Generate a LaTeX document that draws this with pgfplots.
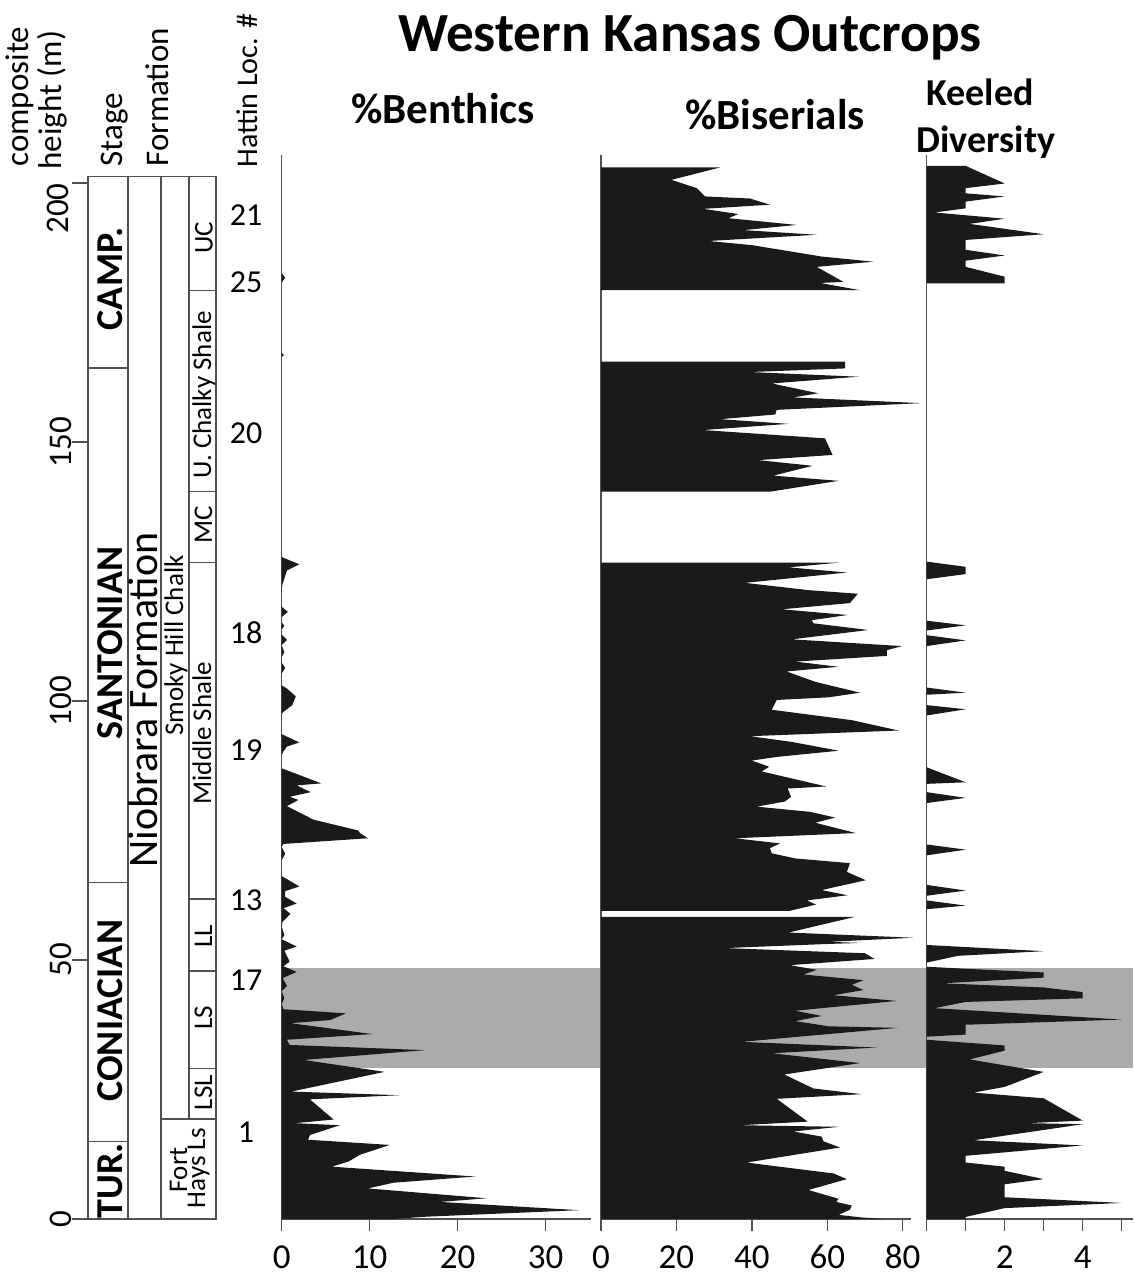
\documentclass[border=0pt]{standalone}
\usepackage{pgfplots}
\pgfplotsset{compat=1.18}
\usepackage{fontspec}
\setmainfont{Carlito}
\definecolor{ink}{HTML}{1A1A1A}
\definecolor{band}{HTML}{ABABAB}
\definecolor{rule}{HTML}{505050}

\pgfplotsset{
  panel/.style={
    scale only axis, height=532pt, ymin=0, ymax=205.4,
    anchor=south west, clip=false,
    axis x line*=bottom, axis y line*=left,
    axis line style={-, line width=0.65pt, draw=rule},
    ytick=\empty, tick align=outside, major tick length=6pt,
    every tick/.style={line width=0.65pt, draw=rule},
    /pgf/number format/assume math mode=true,
    xticklabel style={anchor=base, inner sep=0pt, yshift=-18.5pt, font=\fontsize{17.5}{19}\selectfont},
  },
  record/.style={fill=ink, draw=none},
}

\begin{document}
\begin{tikzpicture}
\useasboundingbox (0,0) rectangle (567.5pt,637.5pt);

% shaded interval behind the three records
\begin{axis}[scale only axis, hide axis, width=425.65pt, height=532pt,
  at={(140.85pt,28pt)}, anchor=south west,
  xmin=0, xmax=851.3, ymin=0, ymax=205.4]
\addplot[fill=band, draw=none] coordinates {(0,29.15) (851.3,29.15) (851.3,48.46) (0,48.46)};
\end{axis}

% stratigraphic column with composite height axis
\begin{axis}[scale only axis, width=64pt, height=521.1pt,
  at={(44pt,28pt)}, anchor=south west,
  xmin=0, xmax=128, ymin=0, ymax=201.2, clip=false,
  axis x line=none, axis y line*=left,
  axis line style={-, line width=0.65pt, draw=rule},
  ytick={0,50,100,150,200}, yticklabels={0,50,100,150,},
  tick align=outside, major tick length=8pt,
  every tick/.style={line width=0.65pt, draw=rule},
  /pgf/number format/assume math mode=true,
  yticklabel style={rotate=90, anchor=south, inner sep=0pt, font=\fontsize{16.5}{18}\selectfont}]
\draw[rule, line width=0.65pt] (0,0) rectangle (128,201.2);
\draw[rule, line width=0.65pt] (40,0) -- (40,201.2) (73,0) -- (73,201.2) (101,19.3) -- (101,201.2);
\draw[rule, line width=0.65pt] (0,164.3) -- (40,164.3) (0,64.9) -- (40,64.9) (0,14.9) -- (40,14.9);
\draw[rule, line width=0.65pt] (101,179.2) -- (128,179.2) (101,140.5) -- (128,140.5)
  (101,126.8) -- (128,126.8) (101,61.8) -- (128,61.8) (101,47.9) -- (128,47.9)
  (101,29.0) -- (128,29.0) (73,19.3) -- (128,19.3);
% top height label sits below its tick, clear of the axis title
\node[rotate=90, anchor=base east, inner sep=0pt, font=\fontsize{16.5}{18}\selectfont] at (-20,200) {200};
\begin{scope}[every node/.style={rotate=90, inner sep=0pt}]
\node[font=\bfseries\fontsize{19}{20}\selectfont] at (22,181.5) {CAMP.};
\node[font=\bfseries\fontsize{19}{20}\selectfont] at (22,111.2) {SANTONIAN};
\node[font=\bfseries\fontsize{19}{20}\selectfont] at (22,40.2) {CONIACIAN};
\node[font=\bfseries\fontsize{19}{20}\selectfont] at (22,7.4) {TUR.};
\node[anchor=base, font=\fontsize{21}{22}\selectfont] at (69,100.2) {Niobrara Formation};
\node[anchor=base, font=\fontsize{13.5}{14}\selectfont] at (95,110.7) {Smoky Hill Chalk};
\node[anchor=base, font=\fontsize{13.5}{14}\selectfont] at (123,93.8) {Middle Shale};
\node[anchor=base, font=\fontsize{13.5}{14}\selectfont] at (123,159.1) {U. Chalky Shale};
\node[anchor=base, font=\fontsize{13.5}{14}\selectfont] at (124.5,189.4) {UC};
\node[anchor=base, font=\fontsize{13.5}{14}\selectfont] at (124,134.0) {MC};
\node[anchor=base, font=\fontsize{13.5}{14}\selectfont] at (124,54.6) {LL};
\node[anchor=base, font=\fontsize{13.5}{14}\selectfont] at (124,38.8) {LS};
\node[anchor=base, font=\fontsize{13.5}{14}\selectfont] at (124,24.4) {LSL};
\node[anchor=base, font=\fontsize{13.5}{14}\selectfont] at (99,9.5) {Fort};
\node[anchor=base, font=\fontsize{13.5}{14}\selectfont] at (117,9.8) {Hays Ls};
\end{scope}
\begin{scope}[every node/.style={inner sep=0pt, font=\fontsize{16}{17}\selectfont}]
\node at (158,193.8) {21};
\node at (158,180.9) {25};
\node at (158,151.7) {20};
\node at (158,113.1) {18};
\node at (158,90.5) {19};
\node at (158,61.6) {13};
\node at (158,46.1) {17};
\node at (158,16.8) {1};
\end{scope}
\end{axis}

% percent benthic foraminifera
\begin{axis}[panel, width=154.65pt, at={(140.85pt,28pt)},
  xmin=0, xmax=35.15, xtick={0,10,20,30}]
\addplot[record] coordinates {(0,182.6) (0.4,181.7) (0,180.8)};
\addplot[record] coordinates {(0,167.2) (0.25,166.8) (0,166.4)};
\addplot[record] coordinates {
(0,127.9) (0.1,127.7) (2.0,126.4) (0.6,125.2) (0.1,122.6) (0,121.5)
(0,118.2) (0.7,117.2) (0,116.2) (0,115.2) (0.3,114.5) (0,113.8)
(0,112.8) (0.6,111.8) (0,110.8) (0.3,109.4) (0,108.5) (0,107.4)
(0.4,106.4) (0,105.3) (0,103.0) (0.6,102.4) (1.6,100.9) (1.2,99.2)
(0.2,97.9) (0,97.5) (0,93.6) (2.0,92.0) (0.6,91.2) (0.2,90.3) (0,89.5)
(0,87.0) (4.5,84.1) (1.7,83.7) (3.3,82.4) (0.9,81.5) (1.9,80.9)
(0.6,79.7) (3.6,77.1) (8.7,75.0) (8.9,74.5) (9.8,73.5) (0.2,72.4)
(0,71.8) (0.4,70.5) (0,69.3) (0,66.2) (2.0,64.2) (0.4,63.3) (0.4,62.2)
(1.7,60.9) (0.2,60.0) (1.0,58.9) (0.1,57.4) (0,56.5) (0.3,54.8) (0,54.0)
(1.7,52.6) (0.3,51.8) (0.9,49.7) (0.2,48.8) (1.7,47.7) (0.1,46.5)
(0.6,45.0) (0,44.0) (0.3,42.6) (0,41.5) (0.2,40.5) (7.3,39.7) (5.5,38.4)
(1.0,37.8) (10.3,35.7) (0.6,34.6) (0.9,33.6) (16.3,32.6) (2.5,30.7)
(11.7,28.4) (1.1,24.6) (13.4,23.9) (3.2,23.1) (5.9,19.2) (1.5,18.5)
(6.6,18.1) (3.2,16.2) (3.0,15.3) (12.3,14.3) (8.9,12.4) (7.6,11.1)
(5.7,10.1) (22.0,8.2) (12.7,7.0) (9.8,5.9) (23.3,4.0) (18.0,3.3)
(33.8,1.7) (16.5,0.45) (12.7,0) (0,0)};
\end{axis}

% percent biserial planktic foraminifera
\begin{axis}[panel, width=155pt, at={(300.5pt,28pt)},
  xmin=0, xmax=82.2, xtick={0,20,40,60,80}]
\addplot[record] coordinates {
(0,203.0) (31.6,203.0) (18.7,200.6) (25.4,199.0) (27.6,197.4) (39.5,197.0)
(44.8,195.8) (27.1,195.0) (36.4,194.0) (33.8,193.2) (51.9,191.9)
(37.8,190.9) (57.2,190.0) (28.5,188.8) (40.0,188.0) (58.5,185.8)
(72.2,184.8) (57.2,183.8) (64.3,180.9) (58.1,180.7) (68.7,179.3) (0,179.3)};
\addplot[record] coordinates {
(0,165.5) (64.7,165.5) (64.7,164.2) (39.5,163.5) (68.3,162.6) (45.3,161.3)
(57.6,159.4) (51.0,158.6) (84.9,157.5) (46.6,156.2) (46.2,155.3)
(31.6,154.4) (49.7,153.5) (27.1,152.3) (59.4,150.7) (61.4,147.5)
(41.7,146.5) (56.1,145.4) (45.7,143.5) (63.0,142.5) (44.8,140.4) (0,140.4)};
\addplot[record] coordinates {
(0,126.7) (63.0,126.7) (49.7,125.8) (65.2,124.8) (38.2,122.8) (55.0,121.4)
(68.1,120.7) (66.0,118.9) (47.9,117.7) (65.4,116.6) (55.9,115.6)
(56.3,115.0) (70.9,113.7) (50.6,111.9) (79.8,110.6) (75.8,109.8)
(75.8,108.7) (51.5,107.6) (63.0,106.6) (49.2,105.7) (56.8,103.7)
(68.7,101.6) (60.3,100.7) (46.6,100.2) (45.3,98.3) (66.5,96.3)
(78.9,94.3) (39.5,93.2) (50.6,92.1) (63.0,90.4) (46.6,89.2) (40.0,88.5)
(44.6,87.3) (42.6,86.4) (59.7,83.5) (49.5,83.1) (50.4,81.5) (48.8,80.6)
(41.3,79.6) (55.4,78.6) (62.1,77.5) (56.8,76.5) (67.6,74.5) (35.5,73.5)
(47.5,72.5) (44.8,71.6) (45.3,70.6) (51.5,69.6) (66.0,68.7) (65.2,67.0)
(70.2,65.4) (58.5,63.5) (65.4,62.5) (54.6,61.5) (57.0,60.7) (50.1,59.5)
(0,59.5)};
\addplot[record] coordinates {
(0,58.3) (67.2,58.3) (49.7,55.3) (82.8,54.3) (60.3,53.5) (69.1,53.3)
(60.3,53.1) (32.9,52.3) (70.0,51.3) (72.5,50.2) (50.1,49.0) (57.2,48.1)
(53.7,47.2) (69.6,46.1) (66.5,45.2) (69.6,44.2) (61.6,43.2) (78.4,42.1)
(58.5,40.7) (51.5,40.2) (58.5,39.2) (51.5,38.2) (60.3,37.2) (78.7,36.9)
(37.3,34.2) (73.1,33.1) (45.3,32.0) (68.7,30.1) (48.6,27.9) (56.3,25.2)
(69.1,24.1) (46.6,23.2) (54.8,18.8) (36.9,18.1) (63.2,17.8) (51.0,16.9)
(58.5,15.9) (59.0,15.0) (63.4,13.8) (38.6,10.9) (61.6,8.8) (65.2,7.7)
(55.0,5.6) (63.0,3.9) (62.4,3.3) (66.5,2.6) (66.0,1.8) (63.0,0.8)
(69.1,0.3) (75.0,0) (0,0)};
\end{axis}

% keeled planktic species richness
\begin{axis}[panel, width=103pt, at={(463.35pt,28pt)},
  xmin=0, xmax=5.282, xtick={0,1,2,3,4,5}, xticklabels={,,2,,4,}]
\addplot[record] coordinates {
(0,203.3) (1,203.3) (2,199.9) (1,199.0) (1,198.0) (2,197.4) (1,196.4)
(1,195.1) (0.2,194.3) (2,193.1) (1.1,192.1) (3,190.1) (1,189.0)
(1,187.1) (2,186.0) (1,185.0) (1,183.8) (2,181.9) (2,180.6) (0,180.6)};
\addplot[record] coordinates {
(0,126.9) (1,125.9) (1,124.5) (0,123.5)
(0,115.5) (1,114.6) (0,113.6)
(0,112.7) (1,111.7) (0,110.6)
(0,102.6) (1,101.6) (0,101.2)
(0,99.2) (1,98.4) (0,97.2)
(0,87.2) (1,84.3) (0,84.0)
(0,82.4) (1,81.3) (0,80.3)
(0,72.3) (1,71.3) (0,70.2)
(0,64.5) (1,63.4) (0,62.4)
(0,61.5) (1,60.5) (0,59.8)
(0,52.9) (3,51.7) (0.8,50.8) (0,49.5)
(0,48.7) (1,48.3) (3,47.6) (3,46.6) (0.4,45.5) (3,44.7) (4,43.8) (4,42.6)
(1,41.9) (0.2,40.7) (5,38.5) (1,37.5) (1,35.6) (0,35.2)
(0,34.6) (2,33.5) (2,32.5) (1.1,30.8) (3,28.4) (2,25.5) (1.2,24.4)
(3,23.3) (4,19.0) (2.6,18.5) (4,18.3) (1.2,15.2) (4,14.2) (1,12.2)
(1,10.9) (2,10.1) (2,9.3) (3,7.7) (2,6.7) (2,4.2) (5,3.1) (2,2.1)
(1,0.4) (1,0) (0,0)};
\end{axis}

% headings
\node[anchor=base, inner sep=0pt, font=\bfseries\fontsize{27.6}{30}\selectfont] at (345pt,611.5pt) {Western Kansas Outcrops};
\node[anchor=base, inner sep=0pt, font=\bfseries\fontsize{21.5}{24}\selectfont] at (221.5pt,575.5pt) {\%Benthics};
\node[anchor=base, inner sep=0pt, font=\bfseries\fontsize{21.5}{24}\selectfont] at (387.5pt,572.5pt) {\%Biserials};
\node[anchor=base, inner sep=0pt, font=\bfseries\fontsize{19}{20}\selectfont] at (490pt,584.5pt) {Keeled};
\node[anchor=base, inner sep=0pt, font=\bfseries\fontsize{19}{20}\selectfont] at (493pt,561pt) {Diversity};
\begin{scope}[every node/.style={rotate=90, anchor=base west, inner sep=0pt, font=\fontsize{16.5}{18}\selectfont}]
\node at (14pt,554pt) {composite};
\node at (31pt,552.5pt) {height (m)};
\node at (61pt,554pt) {Stage};
\node at (84pt,554pt) {Formation};
\node[font=\fontsize{15}{16}\selectfont] at (128.5pt,553.5pt) {Hattin Loc. \#};
\end{scope}
\end{tikzpicture}
\end{document}
